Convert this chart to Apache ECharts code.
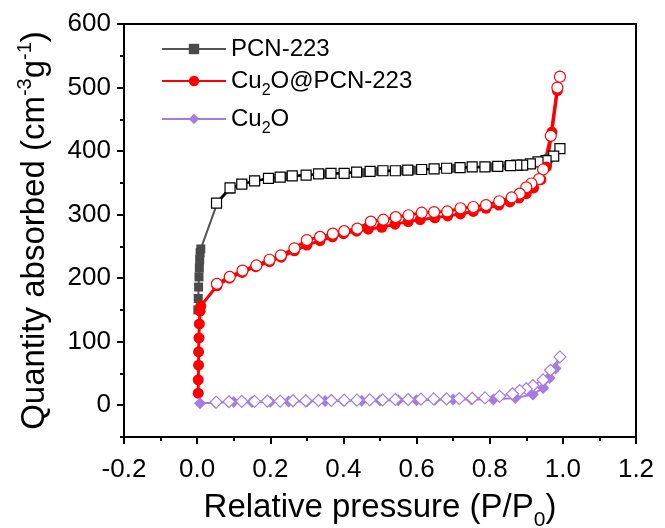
<!DOCTYPE html>
<html>
<head>
<meta charset="utf-8">
<script src="https://cdn.jsdelivr.net/npm/echarts@6/dist/echarts.min.js"></script>
<style>
  html, body { margin: 0; padding: 0; background: #fff; }
  #chart { width: 665px; height: 528px; }
</style>
</head>
<body>
<div id="chart"></div>
<script>
// values, [P/P0, quantity]
const pcnAds = [
    [0.002, 150], [0.003, 168], [0.004, 186], [0.005, 202], [0.006, 216],
    [0.007, 229], [0.008, 240], [0.01, 246], [0.055, 318], [0.09, 340],
    [0.125, 348], [0.16, 353], [0.2, 357], [0.25, 360], [0.3, 362],
    [0.35, 364], [0.4, 365], [0.45, 366], [0.5, 368], [0.55, 369],
    [0.6, 370], [0.65, 372], [0.7, 373], [0.75, 374], [0.8, 375],
    [0.85, 377], [0.9, 379], [0.935, 383], [0.96, 388], [0.992, 404]
];
const pcnDes = [
    [0.992, 404], [0.975, 392], [0.954, 385], [0.932, 383], [0.911, 380],
    [0.89, 378], [0.874, 378], [0.857, 377], [0.822, 376], [0.787, 375],
    [0.752, 375], [0.719, 374], [0.682, 373], [0.648, 372], [0.614, 371],
    [0.576, 370], [0.542, 369], [0.508, 369], [0.473, 368], [0.436, 367],
    [0.402, 365], [0.366, 365], [0.332, 364], [0.298, 362], [0.26, 361],
    [0.227, 359], [0.195, 357], [0.157, 353], [0.122, 348], [0.09, 342],
    [0.053, 318]
];
const cuPcnAds = [
    [0.003, 19], [0.003, 40], [0.004, 63], [0.004, 84], [0.005, 106],
    [0.006, 128], [0.008, 148], [0.01, 156], [0.054, 188], [0.088, 200],
    [0.123, 209], [0.16, 218], [0.198, 226], [0.23, 233], [0.266, 243],
    [0.3, 252], [0.336, 259], [0.37, 265], [0.4, 270], [0.436, 274],
    [0.468, 277], [0.505, 280], [0.541, 285], [0.577, 289], [0.61, 292],
    [0.65, 295], [0.685, 298], [0.72, 301], [0.755, 305], [0.79, 310],
    [0.825, 315], [0.855, 320], [0.88, 326], [0.9, 333], [0.92, 342],
    [0.94, 355], [0.955, 375], [0.97, 430], [0.985, 495], [0.992, 518]
];
const cuPcnDes = [
    [0.992, 517], [0.985, 500], [0.967, 424], [0.946, 371], [0.935, 356],
    [0.914, 349], [0.9, 343], [0.882, 333], [0.86, 327], [0.826, 321],
    [0.79, 315], [0.755, 312], [0.72, 310], [0.684, 305], [0.648, 304],
    [0.614, 303], [0.578, 299], [0.543, 296], [0.509, 292], [0.475, 289],
    [0.438, 278], [0.402, 274], [0.371, 270], [0.336, 265], [0.3, 260],
    [0.266, 247], [0.229, 236], [0.198, 229], [0.162, 220], [0.124, 212],
    [0.089, 202], [0.054, 191]
];
const cuAds = [
    [0.008, 3], [0.05, 4], [0.1, 5], [0.15, 5], [0.2, 5.5], [0.25, 6],
    [0.3, 6], [0.35, 6.5], [0.4, 7], [0.45, 7], [0.5, 7.5], [0.55, 8],
    [0.6, 8], [0.65, 8.5], [0.7, 9], [0.75, 9], [0.81, 9], [0.87, 11.5],
    [0.918, 17], [0.946, 27], [0.964, 43], [0.98, 58], [0.992, 76]
];
const cuDes = [
    [0.992, 76], [0.966, 55], [0.946, 40], [0.918, 31], [0.9, 26],
    [0.882, 23], [0.862, 18], [0.827, 14], [0.787, 11.5], [0.752, 11],
    [0.717, 10.5], [0.682, 10], [0.647, 10], [0.612, 9.5], [0.577, 9],
    [0.542, 9], [0.507, 8.5], [0.472, 8.5], [0.437, 8], [0.402, 8],
    [0.367, 7.5], [0.332, 7.5], [0.297, 7], [0.262, 7], [0.227, 6.5],
    [0.192, 6.5], [0.157, 6], [0.122, 6], [0.087, 5.5], [0.052, 5]
];
const legendNames = ['PCN-223', 'Cu2O@PCN-223', 'Cu2O'];
const yLabelValues = [0, 100, 200, 300, 400, 500, 600];

const FONT = '"Liberation Sans", Arial, sans-serif';
const PURPLE = '#a77be3';

const chart = echarts.init(document.getElementById('chart'), null, { renderer: 'canvas' });

function adsSeries(name, data, symbol, size, color, lineColor, lineWidth) {
    return {
        name: name,
        type: 'line',
        data: data,
        symbol: symbol,
        symbolSize: size,
        lineStyle: { color: lineColor, width: lineWidth },
        itemStyle: { color: color, borderColor: color, borderWidth: 0 },
        emphasis: { disabled: true }
    };
}

function desSeries(name, data, symbol, size, color, lineWidth) {
    return {
        name: name,
        type: 'line',
        data: data,
        symbol: symbol,
        symbolSize: size,
        lineStyle: { color: color, width: lineWidth },
        itemStyle: { color: '#fff', borderColor: color, borderWidth: 1.2 },
        emphasis: { disabled: true }
    };
}

const axisName = { fontSize: 33, lineHeight: 40, fontFamily: FONT, color: '#000', verticalAlign: 'middle' };

chart.setOption({
    animation: false,
    backgroundColor: '#fff',
    grid: {
        left: 124, right: 29, top: 24, bottom: 91,
        containLabel: false,
        outerBoundsMode: 'none',
        show: true, borderColor: '#000', borderWidth: 2
    },
    legend: {
        data: legendNames,
        orient: 'vertical',
        left: 156,
        top: 32,
        itemWidth: 64,
        itemHeight: 13,
        itemGap: 3,
        formatter: name => name === 'PCN-223'
            ? '{n|PCN-223}'
            : name === 'Cu2O'
                ? '{n|Cu}{s|2}{n|O}'
                : '{n|Cu}{s|2}{n|O@PCN-223}',
        textStyle: {
            fontFamily: FONT,
            fontSize: 24,
            color: '#000',
            rich: {
                n: { fontSize: 24, lineHeight: 34, fontFamily: FONT, color: '#000', verticalAlign: 'middle' },
                s: { fontSize: 16, lineHeight: 16, fontFamily: FONT, color: '#000', verticalAlign: 'top', padding: [19, 0, 0, 0] }
            }
        }
    },
    xAxis: {
        type: 'value',
        min: -0.2,
        max: 1.2,
        interval: 0.2,
        name: '{n|Relative pressure (P/P}{b|0}{n|)}',
        nameLocation: 'middle',
        nameGap: 50,
        nameTextStyle: {
            rich: {
                n: axisName,
                b: { fontSize: 21, lineHeight: 21, fontFamily: FONT, color: '#000', verticalAlign: 'top', padding: [22, 0, 0, 0] }
            }
        },
        axisLine: { onZero: false, lineStyle: { color: '#000', width: 2 } },
        axisTick: { length: 7, lineStyle: { color: '#000', width: 2 } },
        minorTick: { show: true, splitNumber: 2, length: 4, lineStyle: { color: '#000', width: 2 } },
        splitLine: { show: false },
        axisLabel: {
            margin: 20,
            fontSize: 26,
            fontFamily: FONT,
            color: '#000',
            showMinLabel: true,
            showMaxLabel: true,
            formatter: v => v.toFixed(1)
        }
    },
    yAxis: [
        {
            type: 'value',
            min: -50,
            max: 600,
            interval: 50,
            name: '{n|Quantity absorbed (cm}{p|-3}{n|g}{p|-1}{n|)}',
            nameLocation: 'middle',
            nameRotate: 90,
            nameGap: 69,
            nameTextStyle: {
                rich: {
                    n: axisName,
                    p: { fontSize: 20, lineHeight: 18, fontFamily: FONT, color: '#000', verticalAlign: 'top' }
                }
            },
            axisLine: { onZero: false, lineStyle: { color: '#000', width: 2 } },
            axisTick: { length: 4, lineStyle: { color: '#000', width: 2 } },
            splitLine: { show: false },
            axisLabel: {
                margin: 13,
                fontSize: 26,
                fontFamily: FONT,
                color: '#000',
                customValues: yLabelValues
            }
        },
        {
            type: 'value',
            position: 'left',
            min: -50,
            max: 600,
            interval: 50,
            axisLine: { show: false, onZero: false },
            axisTick: { show: true, length: 7, customValues: yLabelValues, lineStyle: { color: '#000', width: 2 } },
            axisLabel: { show: false },
            splitLine: { show: false }
        }
    ],
    series: [
        adsSeries('PCN-223', pcnAds, 'rect', 9, '#4a4a4a', '#555', 2),
        desSeries('PCN-223 des', pcnDes, 'rect', 10, '#000', 2.5),
        adsSeries('Cu2O@PCN-223', cuPcnAds, 'circle', 11, '#ff0000', '#ff0000', 3),
        desSeries('Cu2O@PCN-223 des', cuPcnDes, 'circle', 11, '#ff0000', 3),
        adsSeries('Cu2O', cuAds, 'diamond', 12, PURPLE, PURPLE, 2),
        desSeries('Cu2O des', cuDes, 'diamond', 12, PURPLE, 1.5)
    ]
});
</script>
</body>
</html>
